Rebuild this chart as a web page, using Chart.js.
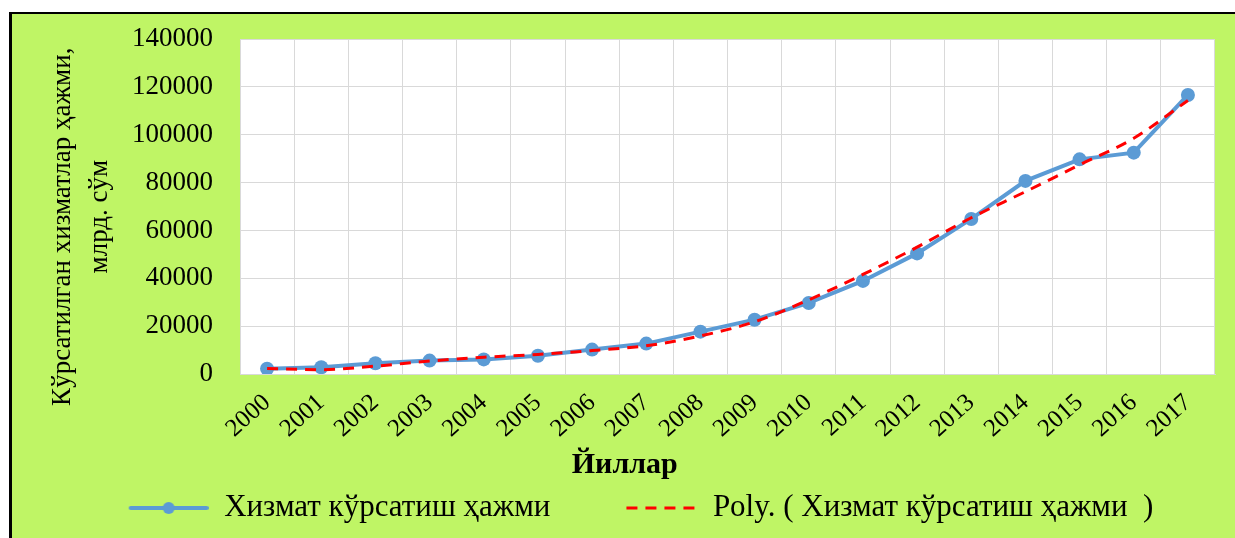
<!DOCTYPE html>
<html>
<head>
<meta charset="utf-8">
<script src="https://cdn.jsdelivr.net/npm/chart.js@4.4.1/dist/chart.umd.min.js"></script>
<style>
  body { margin: 0; background: #fff; }
  #frame {
    position: absolute; left: 9px; top: 12px;
    width: 1223px; height: 524px;
    border-left: 3px solid #000; border-top: 2px solid #000;
    background: rgb(191, 245, 101);
  }
</style>
</head>
<body>
<div id="frame"><canvas id="chart" width="1223" height="524"></canvas></div>
<script>
// Данные
const years = ['2000', '2001', '2002', '2003', '2004', '2005', '2006', '2007', '2008',
               '2009', '2010', '2011', '2012', '2013', '2014', '2015', '2016', '2017'];
const serviceVolume = [2170, 2840, 4500, 5600, 6100, 7650, 10200, 12700, 17700,
                       22700, 29700, 38900, 50400, 64800, 80700, 89700, 92500, 116600];
const polyTrend = [2300, 1800, 3300, 5400, 7000, 8200, 9800, 11800, 15900,
                   21800, 31000, 41600, 53000, 65300, 76200, 87400, 98500, 114300];
const seriesName = 'Хизмат кўрсатиш ҳажми';
const trendName = 'Poly. ( Хизмат кўрсатиш ҳажми  )';
// пробелы немного сдвигают заголовки, как в оригинале
const yTitle = ['Кўрсатилган хизматлар ҳажми,      ', 'млрд. сўм   '];
const xTitle = '   Йиллар';

const BLUE = '#5B9BD5';
const RED = '#FF0000';
const FONT = "'Liberation Serif', 'Times New Roman', serif";
const ICON_W = 135;

// Легенда: маленькие картинки для маркеров
function legendIcon(kind) {
    const c = document.createElement('canvas');
    c.width = ICON_W;
    c.height = 20;
    const g = c.getContext('2d');
    if (kind === 'line') {
        g.strokeStyle = BLUE;
        g.lineWidth = 4;
        g.lineCap = 'round';
        g.beginPath();
        g.moveTo(ICON_W - 78, 10);
        g.lineTo(ICON_W - 2, 10);
        g.stroke();
        g.fillStyle = BLUE;
        g.beginPath();
        g.arc(ICON_W - 40, 10, 6, 0, Math.PI * 2);
        g.fill();
    } else {
        g.strokeStyle = RED;
        g.lineWidth = 3;
        g.setLineDash([11, 8]);
        g.beginPath();
        g.moveTo(ICON_W - 71, 10);
        g.lineTo(ICON_W, 10);
        g.stroke();
    }
    return c;
}
const icons = [legendIcon('line'), legendIcon('dash')];

// Белый фон области построения
const plotBackground = {
    id: 'plotBackground',
    beforeDraw(chart) {
        const a = chart.chartArea;
        const ctx = chart.ctx;
        ctx.save();
        ctx.fillStyle = '#fff';
        ctx.fillRect(a.left, a.top, a.right - a.left, a.bottom - a.top);
        ctx.restore();
    }
};

new Chart(document.getElementById('chart'), {
    type: 'line',
    data: {
        labels: years,
        datasets: [{
            label: seriesName,
            data: serviceVolume,
            borderColor: BLUE,
            backgroundColor: BLUE,
            borderWidth: 4,
            pointRadius: 7,
            pointHoverRadius: 7,
            pointBackgroundColor: BLUE,
            pointBorderWidth: 0,
            tension: 0,
            order: 2
        }, {
            label: trendName,
            data: polyTrend,
            borderColor: RED,
            borderWidth: 3,
            borderDash: [11, 8],
            pointRadius: 0,
            fill: false,
            cubicInterpolationMode: 'monotone',
            order: 1
        }]
    },
    options: {
        responsive: false,
        animation: false,
        layout: {
            padding: { top: 25, right: 20, left: 0, bottom: 4.5 }
        },
        scales: {
            x: {
                offset: true,
                grid: { offset: true, color: '#D9D9D9', drawTicks: false },
                border: { color: '#D9D9D9' },
                ticks: {
                    minRotation: 42,
                    maxRotation: 42,
                    padding: 14,
                    color: '#000',
                    font: { family: FONT, size: 25 }
                },
                afterFit(scale) { scale.height = 76.5; }
            },
            y: {
                min: 0,
                max: 140000,
                grid: { color: '#D9D9D9', drawTicks: false },
                border: { color: '#D9D9D9' },
                ticks: {
                    stepSize: 20000,
                    padding: 27,
                    color: '#000',
                    font: { family: FONT, size: 27 },
                    callback: (v) => String(v)
                },
                title: {
                    display: true,
                    text: yTitle,
                    color: '#000',
                    padding: { top: 32.5, bottom: 0 },
                    font: { family: FONT, size: 27, lineHeight: 1.37 }
                },
                afterFit(scale) {
                    scale.width = 228;
                    scale.paddingTop = 0;
                    scale.paddingBottom = 0;
                }
            }
        },
        plugins: {
            title: {
                display: true,
                text: xTitle,
                position: 'bottom',
                weight: 500,
                color: '#000',
                padding: 0,
                font: { family: FONT, size: 30, weight: 'bold', lineHeight: 1 }
            },
            legend: {
                position: 'bottom',
                labels: {
                    usePointStyle: true,
                    pointStyleWidth: ICON_W,
                    boxHeight: 20,
                    padding: 12,
                    color: '#000',
                    font: { family: FONT, size: 31 },
                    sort: (a, b) => a.datasetIndex - b.datasetIndex,
                    generateLabels(chart) {
                        const items = Chart.defaults.plugins.legend.labels.generateLabels(chart);
                        items.forEach(it => { it.pointStyle = icons[it.datasetIndex]; });
                        return items;
                    }
                }
            },
            tooltip: { enabled: false }
        }
    },
    plugins: [plotBackground]
});
</script>
</body>
</html>
